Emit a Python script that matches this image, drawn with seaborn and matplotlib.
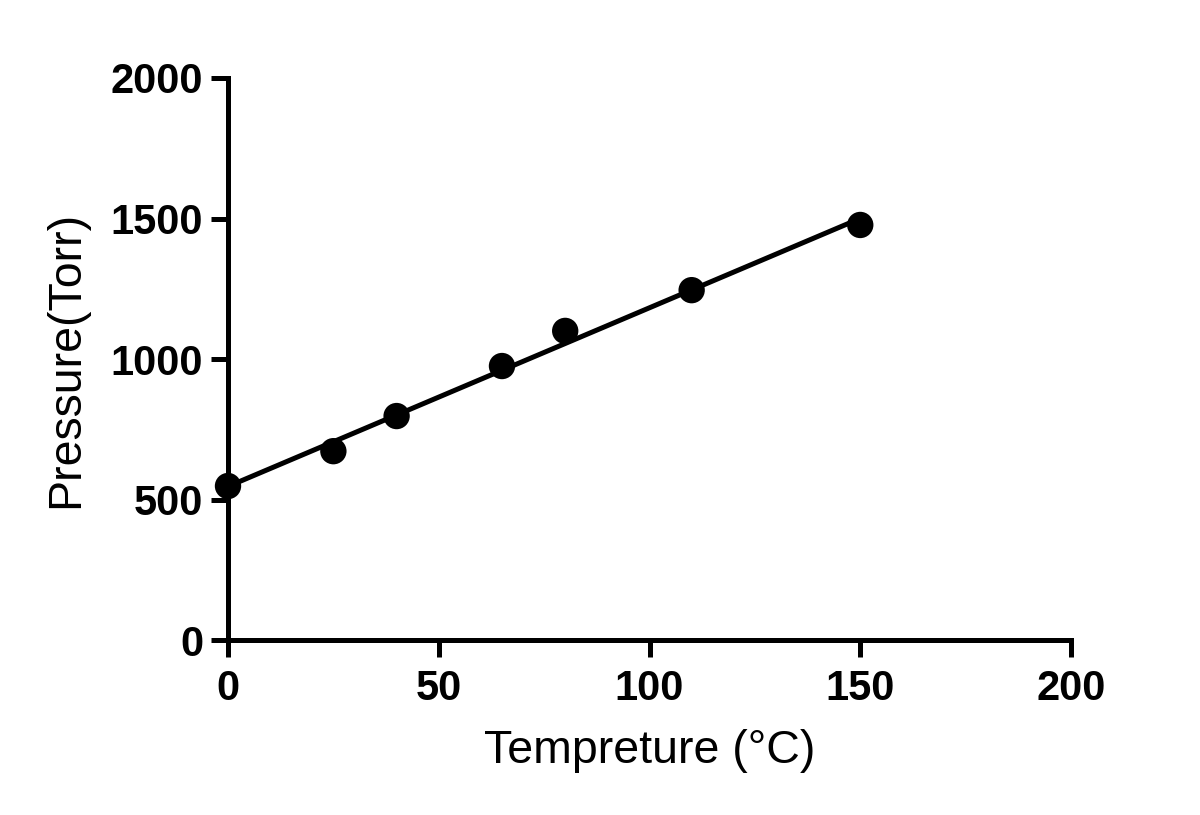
import matplotlib
matplotlib.use("Agg")
import matplotlib.pyplot as plt
import seaborn as sns
import pandas as pd

# data
temperature = [0, 25, 40, 65, 80, 110, 150]
pressure = [548, 672, 797, 975, 1100, 1245, 1477]

x_ticks = [0, 50, 100, 150, 200]
y_ticks = [0, 500, 1000, 1500, 2000]

df = pd.DataFrame({"Temperature": temperature, "Pressure": pressure})

sns.set_style("ticks")
plt.rcParams["font.family"] = ["Liberation Sans", "DejaVu Sans"]
plt.rcParams["text.color"] = "black"
plt.rcParams["axes.labelcolor"] = "black"
plt.rcParams["xtick.color"] = "black"
plt.rcParams["ytick.color"] = "black"

fig = plt.figure(figsize=(12, 8.15), dpi=100)
ax = fig.add_axes([0.19, 0.2147, 0.7025, 0.6896])

sns.regplot(data=df, x="Temperature", y="Pressure", ci=None, truncate=True,
            color="black", ax=ax,
            scatter_kws={"s": 360, "alpha": 1, "edgecolor": "none", "zorder": 3, "clip_on": False},
            line_kws={"linewidth": 3.6, "zorder": 2})

ax.set_xlim(0, 200)
ax.set_ylim(0, 2000)
ax.set_xticks(x_ticks)
ax.set_yticks(y_ticks)

for side in ["top", "right"]:
    ax.spines[side].set_visible(False)
for side in ["left", "bottom"]:
    ax.spines[side].set_linewidth(3.6)
    ax.spines[side].set_color("black")
    ax.spines[side].set_capstyle("projecting")

ax.tick_params(axis="both", direction="out", length=12, width=3.6, color="black",
               labelsize=30, pad=6)
ax.tick_params(axis="x", pad=9)
for lab in ax.get_xticklabels() + ax.get_yticklabels():
    lab.set_fontweight("bold")

ax.set_xlabel("Tempreture (°C)", fontsize=33.5, labelpad=14)
ax.set_ylabel("Pressure(Torr)", fontsize=33.5, labelpad=16)

fig.savefig("out.png", dpi=100)
